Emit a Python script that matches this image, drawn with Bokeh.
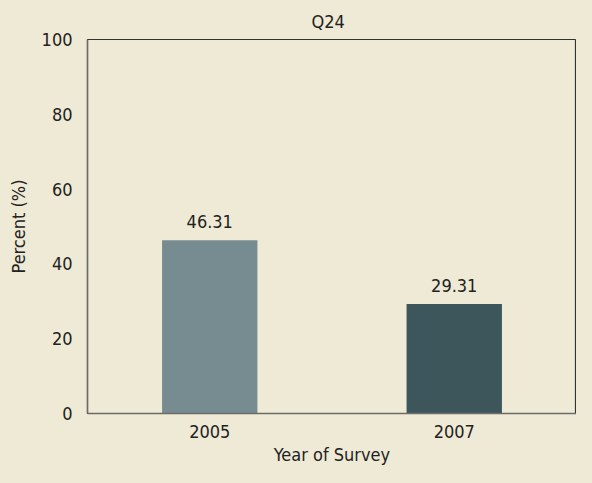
from bokeh.plotting import figure
from bokeh.models import ColumnDataSource, FixedTicker, Range1d, FactorRange
from bokeh.core.properties import value
from bokeh.embed import file_html
from bokeh.resources import INLINE

years = ["2005", "2007"]
percents = [46.31, 29.31]
bar_colors = ["#778c91", "#3d565b"]
labels = ["46.31", "29.31"]
y_ticks = [0, 20, 40, 60, 80, 100]

FONT = "DejaVu Sans Condensed"
FS = "18px"
BG = "#efead5"

src = ColumnDataSource(dict(x=years, top=percents, color=bar_colors, label=labels))

p = figure(width=576, height=467, x_range=FactorRange(*years), y_range=Range1d(0, 100),
           output_backend="svg", toolbar_location=None,
           min_border_left=87, min_border_right=0, min_border_top=39, min_border_bottom=53)

p.background_fill_color = BG
p.border_fill_color = BG
p.outline_line_color = "#333333"
p.outline_line_width = 1.2

p.vbar(x="x", top="top", width=0.39, color="color", line_color=None, source=src)
p.text(x="x", y="top", text="label", source=src, text_align="center",
       text_baseline="bottom", y_offset=-12, text_font=value(FONT),
       text_font_size=FS, text_color="#222222")

p.title.text = "Q24"
p.title.align = "left"
p.title.offset = 224
p.title.text_font = FONT
p.title.text_font_size = FS
p.title.text_font_style = "normal"
p.title.text_color = "#222222"
p.title.standoff = 16

p.xgrid.visible = False
p.ygrid.visible = False

p.yaxis.ticker = FixedTicker(ticks=y_ticks)
for ax in (p.xaxis[0], p.yaxis[0]):
    ax.major_tick_out = 0
    ax.major_tick_in = 0
    ax.minor_tick_out = 0
    ax.minor_tick_in = 0
    ax.axis_line_color = "#6b6b6b"
    ax.axis_line_width = 1.5
    ax.major_label_text_font = FONT
    ax.major_label_text_font_size = FS
    ax.major_label_text_color = "#222222"
    ax.axis_label_text_font = FONT
    ax.axis_label_text_font_size = FS
    ax.axis_label_text_font_style = "normal"
    ax.axis_label_text_color = "#222222"

p.yaxis.major_label_standoff = 15
p.yaxis.axis_label = "Percent (%)"
p.yaxis.axis_label_standoff = 10
p.xaxis.major_label_standoff = 11
p.xaxis.axis_label = "Year of Survey"
p.xaxis.axis_label_standoff = 3

html = file_html(p, INLINE).replace(
    "</head>", "<style>html, body { background: %s; }</style></head>" % BG, 1)
open("out.html", "w").write(html)
